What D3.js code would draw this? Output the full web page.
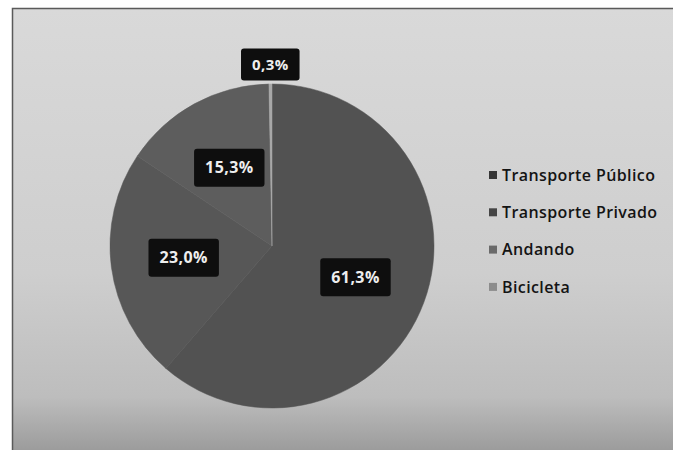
<!DOCTYPE html>
<html>
<head>
<meta charset="utf-8">
<script src="https://cdn.jsdelivr.net/npm/d3@7"></script>
<style>
  body { margin: 0; background: #fff; }
  svg { display: block; }
</style>
</head>
<body>
<div id="chart"></div>
<script>
const categories = ["Transporte Público", "Transporte Privado", "Andando", "Bicicleta"];
const shares = [61.3, 23.0, 15.3, 0.3];
const valueLabels = ["61,3%", "23,0%", "15,3%", "0,3%"];
const sliceColors = ["#525252", "#575757", "#5d5d5d", "#a8a8a8"];
const legendColors = ["#363636", "#454545", "#6a6a6a", "#8c8c8c"];

const width = 673;
const height = 450;

const svg = d3
  .select("#chart")
  .append("svg")
  .attr("width", width)
  .attr("height", height);

// scanned paper look
const grad = svg
  .append("defs")
  .append("linearGradient")
  .attr("id", "paper")
  .attr("x1", 0)
  .attr("y1", 0)
  .attr("x2", 0)
  .attr("y2", 1);
grad.append("stop").attr("offset", "0%").attr("stop-color", "#d9d9d9");
grad.append("stop").attr("offset", "60%").attr("stop-color", "#cecece");
grad.append("stop").attr("offset", "88%").attr("stop-color", "#bdbdbd");
grad.append("stop").attr("offset", "100%").attr("stop-color", "#9c9c9c");

svg
  .append("rect")
  .attr("x", 12)
  .attr("y", 8)
  .attr("width", width - 12)
  .attr("height", height - 8)
  .attr("fill", "url(#paper)");

svg
  .append("path")
  .attr("d", `M12.5,${height}V8.5H${width}`)
  .attr("fill", "none")
  .attr("stroke", "#5a5a5a")
  .attr("stroke-width", 1.5);

const cx = 272;
const cy = 246;
const radius = 162;

const pie = d3.pie().sort(null).value((d) => d.value);
const data = pie(categories.map((c, i) => ({ name: c, value: shares[i], label: valueLabels[i], i })));

const arc = d3.arc().innerRadius(0).outerRadius(radius);
const labelArc = d3.arc().innerRadius(radius * 0.55).outerRadius(radius * 0.55);
const outerLabelArc = d3.arc().innerRadius(radius * 1.12).outerRadius(radius * 1.12);

const g = svg.append("g").attr("transform", `translate(${cx},${cy})`);

g.selectAll("path")
  .data(data)
  .join("path")
  .attr("d", arc)
  .attr("fill", (d) => sliceColors[d.data.i])
  .attr("stroke", (d) => sliceColors[d.data.i])
  .attr("stroke-width", 0.5);

const labels = g
  .selectAll("g.lbl")
  .data(data)
  .join("g")
  .attr("class", "lbl")
  .attr("transform", (d) => {
    const p = d.data.value < 2 ? outerLabelArc.centroid(d) : labelArc.centroid(d);
    return `translate(${p[0]},${p[1]})`;
  });

labels.each(function (d) {
  const sel = d3.select(this);
  const small = d.data.value < 2;
  const t = sel
    .append("text")
    .text(d.data.label)
    .attr("text-anchor", "middle")
    .attr("dy", "0.35em")
    .attr("font-family", "'Open Sans', sans-serif")
    .attr("font-weight", 700)
    .attr("font-size", small ? 15 : 16)
    .attr("letter-spacing", 0.4)
    .attr("fill", "#eeeeee");
  const w = t.node().getComputedTextLength() + 22;
  const h = small ? 32 : 38;
  sel
    .insert("rect", "text")
    .attr("x", -w / 2)
    .attr("y", -h / 2)
    .attr("width", w)
    .attr("height", h)
    .attr("rx", 3)
    .attr("fill", "#0e0e0e");
});

const legend = svg
  .append("g")
  .attr("transform", "translate(489,175)")
  .selectAll("g")
  .data(categories)
  .join("g")
  .attr("transform", (d, i) => `translate(0,${i * 37.3})`);

legend
  .append("rect")
  .attr("x", 0)
  .attr("y", -4)
  .attr("width", 8)
  .attr("height", 8)
  .attr("fill", (d, i) => legendColors[i]);

legend
  .append("text")
  .text((d) => d)
  .attr("x", 13)
  .attr("dy", "0.35em")
  .attr("font-family", "'Open Sans', sans-serif")
  .attr("font-weight", 600)
  .attr("font-size", 16)
  .attr("letter-spacing", 0.4)
  .attr("fill", "#141414");
</script>
</body>
</html>
